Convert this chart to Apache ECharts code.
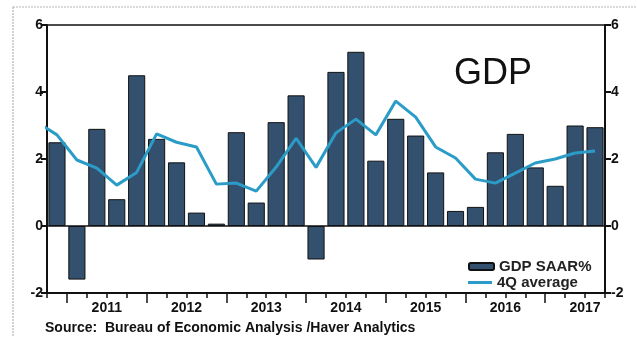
<!DOCTYPE html>
<html>
<head>
<meta charset="utf-8">
<script src="https://cdn.jsdelivr.net/npm/echarts@6/dist/echarts.min.js"></script>
<style>
  html, body { margin: 0; padding: 0; background: #fff; }
  #chart { width: 637px; height: 337px; }
</style>
</head>
<body>
<div id="chart"></div>
<script>
// quarters 2010Q4 .. 2017Q3
const quarters = [
  '2010Q4',
  '2011Q1', '2011Q2', '2011Q3', '2011Q4',
  '2012Q1', '2012Q2', '2012Q3', '2012Q4',
  '2013Q1', '2013Q2', '2013Q3', '2013Q4',
  '2014Q1', '2014Q2', '2014Q3', '2014Q4',
  '2015Q1', '2015Q2', '2015Q3', '2015Q4',
  '2016Q1', '2016Q2', '2016Q3', '2016Q4',
  '2017Q1', '2017Q2', '2017Q3'
]
const gdpSaar = [
  2.5,
  -1.6, 2.9, 0.8, 4.5,
  2.6, 1.9, 0.4, 0.07,
  2.8, 0.7, 3.1, 3.9,
  -1.0, 4.6, 5.2, 1.95,
  3.2, 2.7, 1.6, 0.45,
  0.57, 2.2, 2.75, 1.75,
  1.2, 3.0, 2.95
]
// 4Q average, first value is 2010Q3 (runs off the left edge)
const avg4Q = [
  3.1,
  2.72,
  1.97, 1.73, 1.22, 1.6,
  2.75, 2.5, 2.36, 1.25,
  1.28, 1.04, 1.76, 2.62,
  1.75, 2.78, 3.19, 2.72,
  3.73, 3.25, 2.36, 2.03,
  1.4, 1.28, 1.58, 1.88,
  2.0, 2.18, 2.24
]
const years = ['2011', '2012', '2013', '2014', '2015', '2016', '2017']
const yTicks = [-2, 0, 2, 4, 6]

const chart = echarts.init(document.getElementById('chart'))

const firstYear = quarters.indexOf('2011Q1')
const yearBounds = years.map((y, i) => firstYear + i * 4)
const yearCenters = years.map((y, i) => firstYear + i * 4 + 2)
const fontFam = '"Liberation Sans", Arial, sans-serif'
const legendText = {fontFamily: fontFam, fontSize: 15, fontWeight: 'bold', color: '#222'}

const option = {
  animation: false,
  backgroundColor: '#fff',
  graphic: [
    {
      type: 'rect',
      shape: {x: 13, y: 7, width: 640, height: 345},
      style: {fill: 'none', stroke: '#b5b5b5', lineWidth: 1.2, lineDash: [2, 1]},
      silent: true,
    },
    {
      type: 'text',
      left: 45,
      top: 321,
      style: {
        text: 'Source:  Bureau of Economic Analysis /Haver Analytics',
        font: 'bold 14px ' + fontFam,
        fill: '#111',
      },
    },
    {
      type: 'text',
      left: 454,
      top: 56,
      style: {
        text: 'GDP',
        font: '36px ' + fontFam,
        fill: '#111',
      },
    },
  ],
  legend: [
    {
      left: 463,
      top: 254,
      itemWidth: 25,
      itemHeight: 7,
      textStyle: legendText,
      data: [{name: 'GDP SAAR%', icon: 'roundRect'}],
    },
    {
      left: 463,
      top: 270,
      itemWidth: 24,
      itemHeight: 3,
      textStyle: legendText,
      data: [{name: '4Q average', icon: 'rect', itemStyle: {color: '#2a9cc7'}}],
    },
  ],
  grid: {
    left: 47,
    right: 32,
    top: 25,
    bottom: 44,
    show: true,
    borderColor: '#111',
    borderWidth: 1.5,
  },
  xAxis: [
    {
      type: 'category',
      data: quarters,
      position: 'bottom',
      axisLine: {show: true, onZero: false, lineStyle: {color: '#111', width: 2}},
      axisTick: {show: true, interval: 0, length: 5, lineStyle: {color: '#111', width: 1.5}},
      axisLabel: {show: false},
      splitLine: {show: false},
    },
    {
      type: 'value',
      min: 0,
      max: quarters.length,
      position: 'bottom',
      axisLine: {show: false, onZero: false},
      splitLine: {show: false},
      axisTick: {
        show: true,
        customValues: yearBounds,
        length: 10,
        lineStyle: {color: '#111', width: 1.5},
      },
      axisLabel: {
        customValues: yearCenters,
        margin: 8,
        fontFamily: fontFam,
        fontSize: 14,
        fontWeight: 'bold',
        color: '#111',
        formatter: v => years[Math.round((v - firstYear - 2) / 4)],
      },
    },
  ],
  yAxis: [0, 1].map(i => ({
    type: 'value',
    position: i === 0 ? 'left' : 'right',
    min: yTicks[0],
    max: yTicks[yTicks.length - 1],
    interval: 2,
    axisLine: {show: true, lineStyle: {color: '#111', width: 2}},
    axisTick: {show: true, length: 6, lineStyle: {color: '#111', width: 2}},
    axisLabel: {
      fontFamily: fontFam,
      fontSize: 14,
      fontWeight: 'bold',
      color: '#111',
      margin: i === 0 ? 4 : 6,
    },
    splitLine: {show: false},
  })),
  series: [
    {
      name: 'GDP SAAR%',
      type: 'bar',
      data: gdpSaar,
      barCategoryGap: '14%',
      itemStyle: {color: '#34506f', borderColor: '#111', borderWidth: 1},
      markLine: {
        silent: true,
        symbol: 'none',
        label: {show: false},
        lineStyle: {color: '#111', width: 1.5, type: 'solid'},
        data: [{yAxis: 0}],
      },
    },
    {
      name: '4Q average',
      type: 'line',
      xAxisIndex: 1,
      data: avg4Q.map((v, i) => [i - 0.5, v]),
      showSymbol: false,
      symbol: 'none',
      clip: true,
      itemStyle: {color: '#2a9cc7'},
      lineStyle: {color: '#2a9cc7', width: 3},
      z: 3,
    },
  ],
}

chart.setOption(option)
</script>
</body>
</html>
